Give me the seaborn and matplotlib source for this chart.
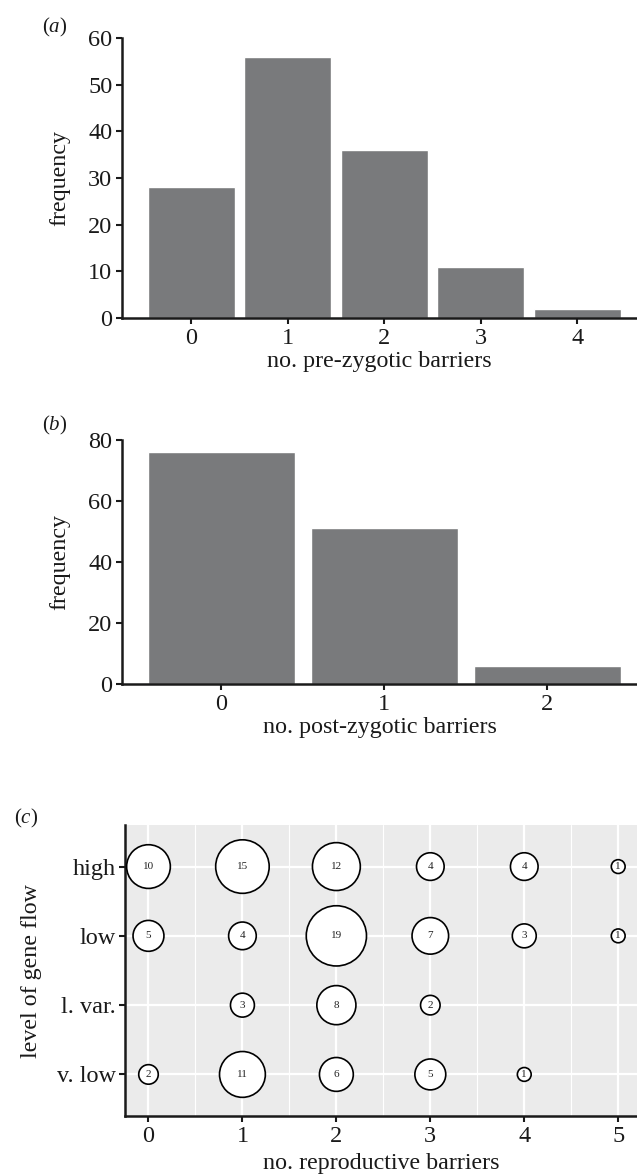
import numpy as np
import pandas as pd
import matplotlib
matplotlib.use("Agg")
import matplotlib.pyplot as plt
import seaborn as sns

# ---- data ----
pre_barriers = [0, 1, 2, 3, 4]
pre_freq = [28, 56, 36, 11, 2]

post_barriers = [0, 1, 2]
post_freq = [76, 51, 6]

flow_levels = ["v. low", "l. var.", "low", "high"]  # bottom -> top
high_counts = {0: 10, 1: 15, 2: 12, 3: 4, 4: 4, 5: 1}
low_counts = {0: 5, 1: 4, 2: 19, 3: 7, 4: 3, 5: 1}
lvar_counts = {1: 3, 2: 8, 3: 2}
vlow_counts = {0: 2, 1: 11, 2: 6, 3: 5, 4: 1}
repro_ticks = [0, 1, 2, 3, 4, 5]

sns.set_style("ticks")
plt.rcParams["font.family"] = ["Liberation Serif", "DejaVu Serif"]
plt.rcParams["mathtext.fontset"] = "custom"
plt.rcParams["mathtext.rm"] = "Liberation Serif"
plt.rcParams["mathtext.it"] = "Liberation Serif:italic"

BAR = "#797a7c"
INK = "#1a1a1a"
W, H = 637, 1176
fig = plt.figure(figsize=(W / 100, H / 100), dpi=100)

def fx(px):
    return px / W

def fy(py):
    return 1 - py / H

TICK_FS = 17.5
LAB_FS = 17.3
PANEL_FS = 15

def style_axes(ax):
    for s in ["top", "right"]:
        ax.spines[s].set_visible(False)
    for s in ["left", "bottom"]:
        ax.spines[s].set_linewidth(1.8)
        ax.spines[s].set_color(INK)
    ax.tick_params(axis="both", which="major", direction="out", length=4,
                   width=1.5, labelsize=TICK_FS, colors=INK, pad=3)

# ---- panel a ----
ax_a = fig.add_axes([fx(122), fy(318), 1 - fx(122), fy(38) - fy(318)])
df_a = pd.DataFrame({"x": pre_barriers, "y": pre_freq})
sns.barplot(data=df_a, x="x", y="y", color=BAR, width=0.9, saturation=1,
            ax=ax_a, order=pre_barriers)
ax_a.set_xlim(-0.72, 4.62)
ax_a.set_ylim(0, 60)
ax_a.set_yticks([0, 10, 20, 30, 40, 50, 60])
ax_a.set_xlabel("no. pre-zygotic barriers", fontsize=LAB_FS, labelpad=2, color=INK)
ax_a.set_ylabel("frequency", fontsize=LAB_FS, labelpad=12.5, color=INK)
style_axes(ax_a)
fig.text(fx(42), fy(27), r"($\mathit{a}$)", fontsize=PANEL_FS, va="center", ha="left", color=INK)

# ---- panel b ----
ax_b = fig.add_axes([fx(122), fy(684), 1 - fx(122), fy(440) - fy(684)])
df_b = pd.DataFrame({"x": post_barriers, "y": post_freq})
sns.barplot(data=df_b, x="x", y="y", color=BAR, width=0.9, saturation=1,
            ax=ax_b, order=post_barriers)
ax_b.set_xlim(-0.61, 2.55)
ax_b.set_ylim(0, 80)
ax_b.set_yticks([0, 20, 40, 60, 80])
ax_b.set_xlabel("no. post-zygotic barriers", fontsize=LAB_FS, labelpad=2, color=INK)
ax_b.set_ylabel("frequency", fontsize=LAB_FS, labelpad=12.5, color=INK)
style_axes(ax_b)
fig.text(fx(42), fy(425), r"($\mathit{b}$)", fontsize=PANEL_FS, va="center", ha="left", color=INK)

# ---- panel c ----
rows = []
for lvl, d in zip(["high", "low", "l. var.", "v. low"],
                  [high_counts, low_counts, lvar_counts, vlow_counts]):
    for k, v in d.items():
        rows.append({"barriers": k, "level": lvl, "ypos": flow_levels.index(lvl), "n": v})
df_c = pd.DataFrame(rows)

ax_c = fig.add_axes([fx(125), fy(1116), 1 - fx(125), fy(825) - fy(1116)])
ax_c.set_facecolor("#ebebeb")
ax_c.set_axisbelow(True)
scale = 99.0
sns.scatterplot(data=df_c, x="barriers", y="ypos", size="n",
                sizes=(0, scale * 19), size_norm=(0, 19), legend=False,
                color="white", edgecolor="black", linewidth=1.2, ax=ax_c,
                zorder=3)
for _, r in df_c.iterrows():
    ax_c.text(r["barriers"], r["ypos"], str(r["n"]), ha="center", va="center",
              fontsize=8, color="#222222", zorder=4)
ax_c.set_xlim(-0.25, 5.2)
ax_c.set_ylim(-0.6, 3.6)
ax_c.set_xticks(repro_ticks)
ax_c.set_xticks(np.arange(0.5, 5.0, 1.0), minor=True)
ax_c.set_yticks(range(len(flow_levels)))
ax_c.set_yticklabels(flow_levels)
ax_c.grid(True, which="major", color="white", linewidth=1.6)
ax_c.grid(True, which="minor", axis="x", color="white", linewidth=0.8)
ax_c.tick_params(which="minor", length=0)
style_axes(ax_c)
ax_c.tick_params(axis="y", pad=2.5)
ax_c.set_xlabel("no. reproductive barriers", fontsize=LAB_FS, labelpad=4.5, color=INK)
ax_c.set_ylabel("level of gene flow", fontsize=LAB_FS, labelpad=11, color=INK)
fig.text(fx(14), fy(818), r"($\mathit{c}$)", fontsize=PANEL_FS, va="center", ha="left", color=INK)

fig.savefig("out.png", dpi=100)
